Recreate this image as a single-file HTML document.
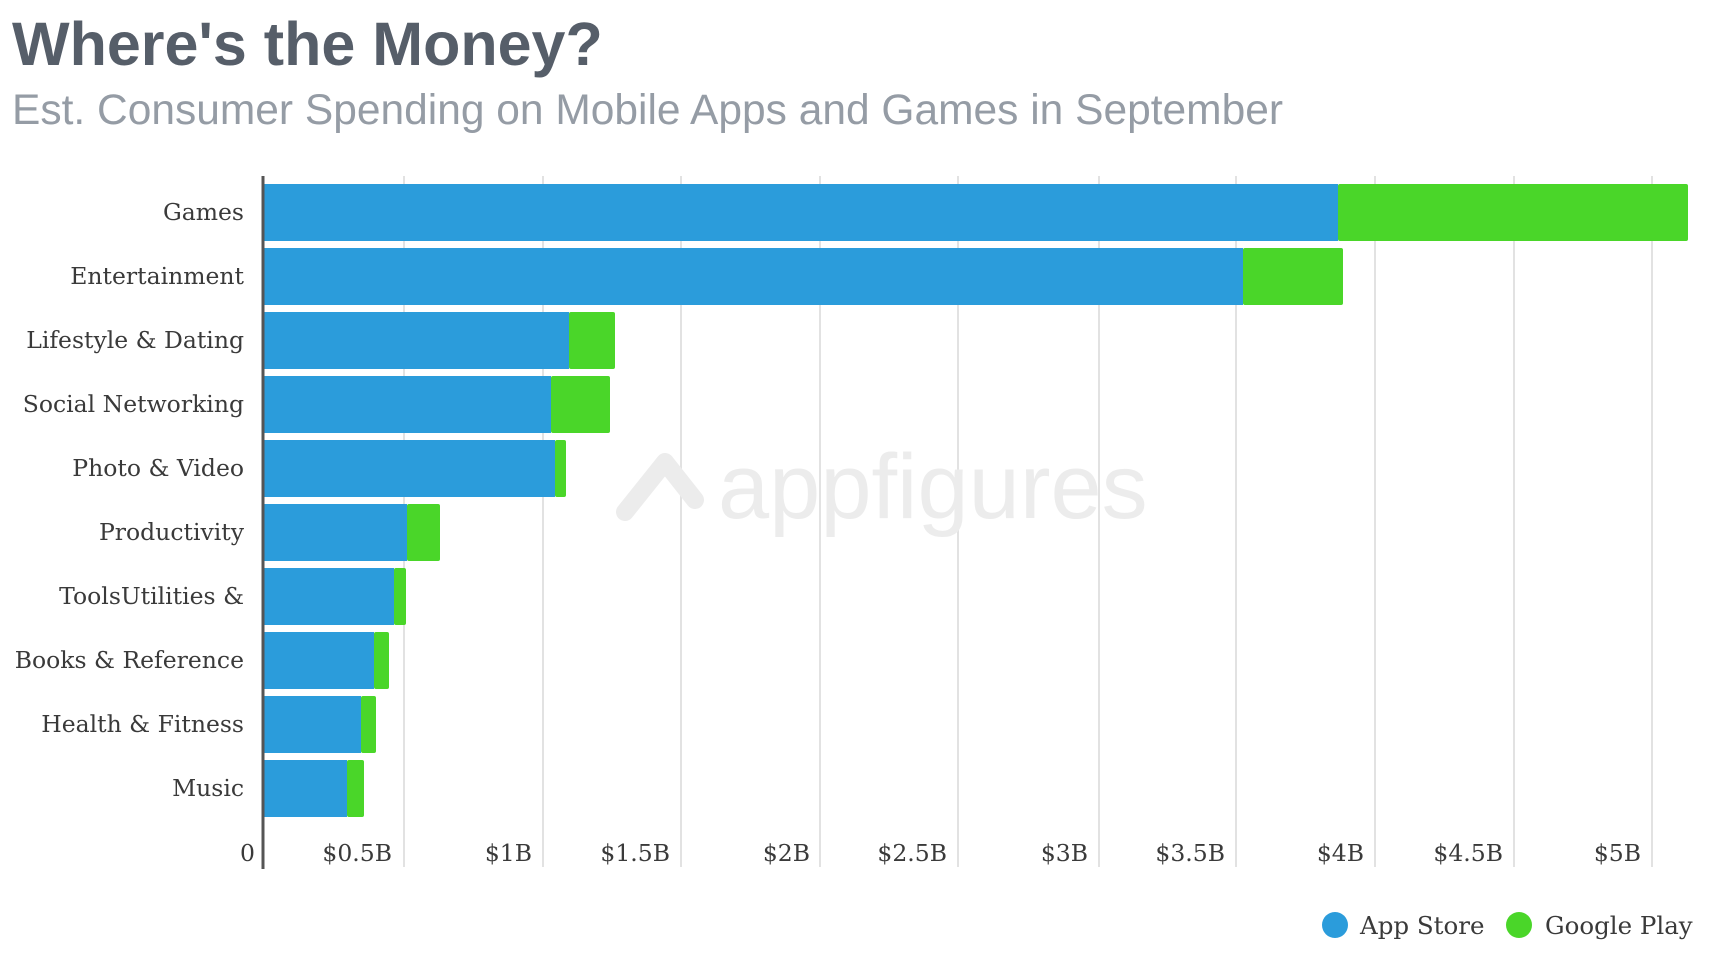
<!DOCTYPE html>
<html><head><meta charset="utf-8"><style>
html,body{margin:0;padding:0;background:#fff;width:1730px;height:974px;overflow:hidden}
svg{display:block}
</style></head><body>
<svg width="1730" height="974" xmlns="http://www.w3.org/2000/svg">
<text x="12" y="65" font-family="Liberation Sans, sans-serif" font-weight="bold" font-size="61" fill="#565e69">Where's the Money?</text>
<text x="12" y="124" font-family="Liberation Sans, sans-serif" font-size="42.5" fill="#959ca5">Est. Consumer Spending on Mobile Apps and Games in September</text>
<g stroke="#e2e2e2" stroke-width="2">
<line x1="404" y1="176" x2="404" y2="867"/><line x1="543" y1="176" x2="543" y2="867"/>
<line x1="681" y1="176" x2="681" y2="867"/><line x1="820" y1="176" x2="820" y2="867"/>
<line x1="958" y1="176" x2="958" y2="867"/><line x1="1099" y1="176" x2="1099" y2="867"/>
<line x1="1236" y1="176" x2="1236" y2="867"/><line x1="1375" y1="176" x2="1375" y2="867"/>
<line x1="1514" y1="176" x2="1514" y2="867"/><line x1="1652" y1="176" x2="1652" y2="867"/>
</g>
<path d="M625 512 l40 -50 l30 38" stroke="#ececec" stroke-width="18" fill="none" stroke-linecap="round" stroke-linejoin="round"/>
<text x="718" y="518" font-family="Liberation Sans, sans-serif" font-size="92" fill="#ececec">appfigures</text>
<g>
<rect x="264" y="184" width="1074" height="57" fill="#2b9cdb"/><rect x="1338" y="184" width="350" height="57" fill="#4ad629" rx="2"/>
<rect x="264" y="248" width="979" height="57" fill="#2b9cdb"/><rect x="1243" y="248" width="100" height="57" fill="#4ad629" rx="2"/>
<rect x="264" y="312" width="305" height="57" fill="#2b9cdb"/><rect x="569" y="312" width="46" height="57" fill="#4ad629" rx="2"/>
<rect x="264" y="376" width="287" height="57" fill="#2b9cdb"/><rect x="551" y="376" width="59" height="57" fill="#4ad629" rx="2"/>
<rect x="264" y="440" width="291" height="57" fill="#2b9cdb"/><rect x="555" y="440" width="11" height="57" fill="#4ad629" rx="2"/>
<rect x="264" y="504" width="143" height="57" fill="#2b9cdb"/><rect x="407" y="504" width="33" height="57" fill="#4ad629" rx="2"/>
<rect x="264" y="568" width="130" height="57" fill="#2b9cdb"/><rect x="394" y="568" width="12" height="57" fill="#4ad629" rx="2"/>
<rect x="264" y="632" width="110" height="57" fill="#2b9cdb"/><rect x="374" y="632" width="15" height="57" fill="#4ad629" rx="2"/>
<rect x="264" y="696" width="97" height="57" fill="#2b9cdb"/><rect x="361" y="696" width="15" height="57" fill="#4ad629" rx="2"/>
<rect x="264" y="760" width="83" height="57" fill="#2b9cdb"/><rect x="347" y="760" width="17" height="57" fill="#4ad629" rx="2"/>
</g>
<line x1="263" y1="176" x2="263" y2="869" stroke="#555" stroke-width="3"/>
<g font-family="DejaVu Serif, Liberation Serif, serif" font-size="23.5" fill="#3a3a3a" text-anchor="end">
<text x="244" y="220">Games</text>
<text x="244" y="284">Entertainment</text>
<text x="244" y="348">Lifestyle &amp; Dating</text>
<text x="244" y="412">Social Networking</text>
<text x="244" y="476">Photo &amp; Video</text>
<text x="244" y="540">Productivity</text>
<text x="244" y="604">ToolsUtilities &amp;</text>
<text x="244" y="668">Books &amp; Reference</text>
<text x="244" y="732">Health &amp; Fitness</text>
<text x="244" y="796">Music</text>
<text x="255" y="861">0</text>
<text x="392" y="861">$0.5B</text>
<text x="532" y="861">$1B</text>
<text x="670" y="861">$1.5B</text>
<text x="810" y="861">$2B</text>
<text x="947" y="861">$2.5B</text>
<text x="1088" y="861">$3B</text>
<text x="1225" y="861">$3.5B</text>
<text x="1364" y="861">$4B</text>
<text x="1503" y="861">$4.5B</text>
<text x="1641" y="861">$5B</text>
</g>
<circle cx="1335" cy="925" r="13" fill="#2b9cdb"/>
<circle cx="1519" cy="925" r="13" fill="#4ad629"/>
<g font-family="DejaVu Serif, Liberation Serif, serif" font-size="24.5" fill="#3a3a3a">
<text x="1360" y="934">App Store</text>
<text x="1545" y="934">Google Play</text>
</g>
</svg>
</body></html>
